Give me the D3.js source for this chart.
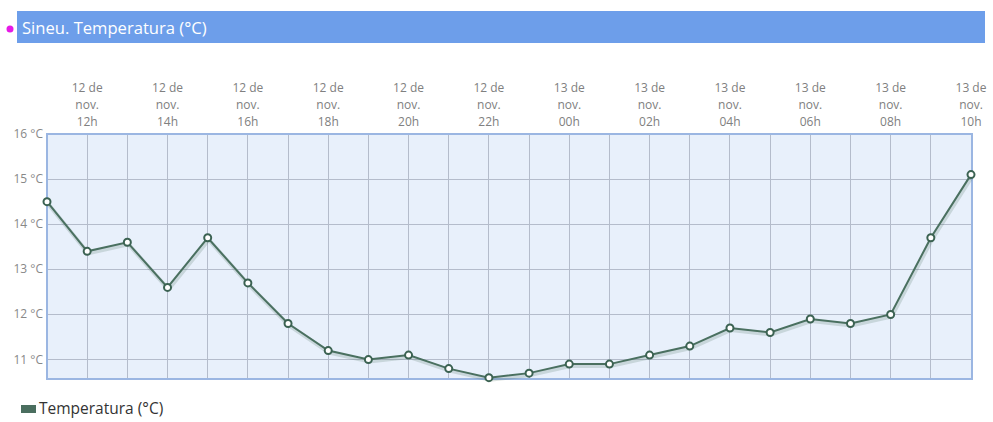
<!DOCTYPE html>
<html><head><meta charset="utf-8">
<script src="https://cdn.jsdelivr.net/npm/d3@7"></script>
<style>body{margin:0;background:#fff;font-family:"Open Sans",sans-serif;}</style>
</head><body>
<svg id="c" width="993" height="422"></svg>
<script>
const hours = [11,12,13,14,15,16,17,18,19,20,21,22,23,0,1,2,3,4,5,6,7,8,9,10];
const days = [12,12,12,12,12,12,12,12,12,12,12,12,12,13,13,13,13,13,13,13,13,13,13,13];
const temps = [14.5,13.4,13.6,12.6,13.7,12.7,11.8,11.2,11.0,11.1,10.8,10.6,10.7,10.9,10.9,11.1,11.3,11.7,11.6,11.9,11.8,12.0,13.7,15.1];
const yTicks = [11,12,13,14,15,16];
const title = "Sineu. Temperatura (°C)";
const seriesName = "Temperatura (°C)";

const svg = d3.select("#c");
const m = {l:47, r:972, t:134, b:379};
const x = d3.scaleLinear().domain([0, temps.length-1]).range([m.l, m.r-1]);
const y = d3.scaleLinear().domain([10.57, 16]).range([m.b, m.t]);

// title bar
svg.append("rect").attr("x",17).attr("y",11).attr("width",968).attr("height",32).attr("fill","#6d9eea");
svg.append("circle").attr("cx",10).attr("cy",29).attr("r",3.5).attr("fill","#e619e6");
svg.append("text").attr("x",22).attr("y",34).attr("fill","#fff").attr("font-size",16.6).text(title);

// plot bg
svg.append("rect").attr("x",m.l).attr("y",m.t).attr("width",m.r-m.l).attr("height",m.b-m.t).attr("fill","#e8f0fb");

// grid
const idx = d3.range(temps.length);
svg.append("g").selectAll("line").data(idx.slice(1)).join("line")
  .attr("x1",d=>x(d)).attr("x2",d=>x(d)).attr("y1",m.t).attr("y2",m.b)
  .attr("stroke","#b4bccb").attr("stroke-width",1).attr("shape-rendering","crispEdges");
svg.append("g").selectAll("line").data(yTicks.slice(0,-1)).join("line")
  .attr("x1",m.l).attr("x2",m.r).attr("y1",d=>y(d)).attr("y2",d=>y(d))
  .attr("stroke","#b4bccb").attr("stroke-width",1).attr("shape-rendering","crispEdges");

// border
svg.append("rect").attr("x",m.l).attr("y",m.t).attr("width",m.r-m.l).attr("height",m.b-m.t)
  .attr("fill","none").attr("stroke","#9bb6e2").attr("stroke-width",2);

// y labels
svg.append("g").selectAll("text").data(yTicks).join("text")
  .attr("x",43).attr("y",d=>y(d)+4).attr("text-anchor","end").attr("font-size",12).attr("fill","#888")
  .text(d=>d+" °C");

// x labels (every 2 hours, starting 12h)
const labelIdx = idx.filter(i => hours[i] % 2 === 0);
const xl = svg.append("g").selectAll("text").data(labelIdx).join("text")
  .attr("text-anchor","middle").attr("font-size",12).attr("fill","#808080");
xl.each(function(i){
  const t = d3.select(this);
  const lines = [days[i]+" de","nov.",String(hours[i]).padStart(2,"0")+"h"];
  lines.forEach((s,k)=>t.append("tspan").attr("x",x(i)).attr("y",92+k*17).text(s));
});

// line shadow + line
const line = d3.line().x((d,i)=>x(i)).y(d=>y(d));
svg.append("path").datum(temps).attr("d",line).attr("fill","none").attr("stroke","#4a7060")
  .attr("stroke-opacity",0.2).attr("stroke-width",4).attr("transform","translate(1,2)");
svg.append("path").datum(temps).attr("d",line).attr("fill","none").attr("stroke","#4a7060").attr("stroke-width",2);
svg.append("g").selectAll("circle").data(temps).join("circle")
  .attr("cx",(d,i)=>x(i)).attr("cy",d=>y(d)).attr("r",3.5)
  .attr("fill","#fff").attr("stroke","#3b6252").attr("stroke-width",2);

// legend
svg.append("rect").attr("x",21).attr("y",405).attr("width",15).attr("height",8).attr("fill","#4a6e5f");
svg.append("text").attr("x",39).attr("y",414).attr("font-size",15.5).attr("fill","#333").text(seriesName);
</script>
</body></html>
